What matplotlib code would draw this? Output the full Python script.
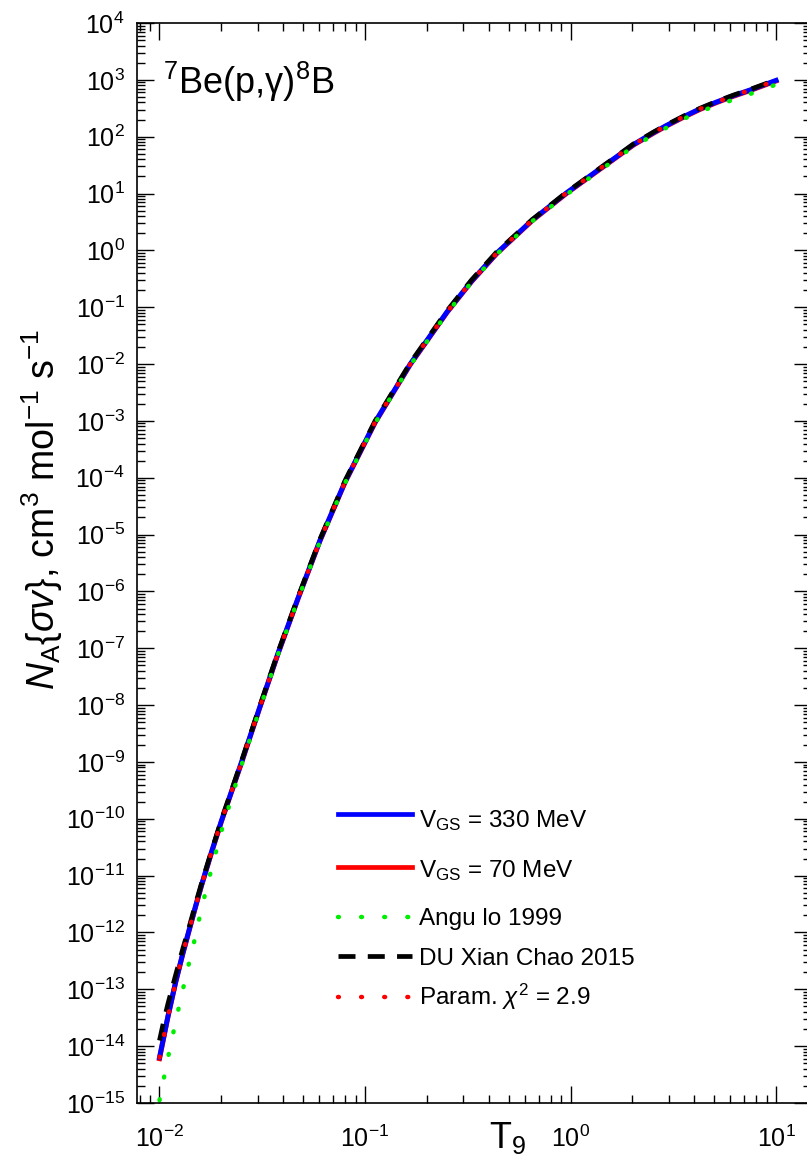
import numpy as np
import matplotlib
matplotlib.use("Agg")
import matplotlib.pyplot as plt
from matplotlib.ticker import LogLocator, FuncFormatter, NullFormatter

plt.rcParams['font.family'] = ['Liberation Sans', 'DejaVu Sans']
plt.rcParams['mathtext.fontset'] = 'custom'
plt.rcParams['mathtext.rm'] = 'Liberation Sans'
plt.rcParams['mathtext.it'] = 'Liberation Sans:italic'
plt.rcParams['mathtext.sf'] = 'Liberation Sans'
plt.rcParams['mathtext.bf'] = 'Liberation Sans:bold'

# ---------------- data ----------------
# V_GS = 330 MeV  (blue) ; V_GS = 70 MeV (red) ; Param. fit (red dots)
T9_main = [0.0100, 0.0110, 0.0120, 0.0130, 0.0140, 0.0150, 0.0160, 0.0180, 0.0200,
           0.0252, 0.0308, 0.0378, 0.0472, 0.0604, 0.0800, 0.112, 0.166, 0.251,
           0.33, 0.437, 0.65, 0.955, 1.42, 1.68, 2.02, 2.53, 2.94, 3.54, 4.27,
           5.14, 6.19, 7.46, 9.02, 10.0]
log_v330 = [-14.20, -13.47, -12.86, -12.36, -11.93, -11.53, -11.17, -10.56, -10.04,
            -8.98, -8.03, -7.08, -6.12, -5.10, -4.07, -3.02, -2.00, -1.08,
            -0.54, -0.05, 0.53, 1.01, 1.46, 1.65, 1.86, 2.07, 2.20, 2.35, 2.49,
            2.61, 2.72, 2.82, 2.93, 2.99]
log_v70 = [-14.22, -13.48, -12.87, -12.37, -11.94, -11.54, -11.18, -10.57, -10.05,
           -8.99, -8.04, -7.09, -6.13, -5.11, -4.08, -3.03, -2.01, -1.09,
           -0.55, -0.06, 0.52, 1.00, 1.45, 1.64, 1.85, 2.06, 2.19, 2.34, 2.48,
           2.60, 2.71, 2.81, 2.92, 2.98]
log_param = [-14.20, -13.47, -12.86, -12.36, -11.93, -11.53, -11.17, -10.56, -10.04,
             -8.98, -8.03, -7.08, -6.12, -5.10, -4.07, -3.02, -2.00, -1.08,
             -0.54, -0.05, 0.53, 1.01, 1.46, 1.65, 1.86, 2.07, 2.20, 2.35, 2.49,
             2.61, 2.72, 2.82, 2.93, 2.99]

# Angulo 1999 (green dots)
T9_angulo = T9_main
log_angulo = [-14.95, -14.20, -13.56, -13.00, -12.50, -12.05, -11.58, -10.85, -10.22,
              -9.03, -8.06, -7.10, -6.14, -5.12, -4.09, -3.04, -2.02, -1.10,
              -0.56, -0.07, 0.51, 0.98, 1.43, 1.62, 1.82, 2.03, 2.16, 2.31, 2.44,
              2.55, 2.65, 2.75, 2.85, 2.92]

# DU XianChao 2015 (black dashes)
T9_du = [0.0100, 0.0105, 0.0110, 0.0120, 0.0130, 0.0140, 0.0150, 0.0160, 0.0180, 0.0200,
         0.0252, 0.0308, 0.0378, 0.0472, 0.0604, 0.0800, 0.112, 0.166, 0.251,
         0.33, 0.437, 0.65, 0.955, 1.42, 1.68, 2.02, 2.53, 2.94, 3.54, 4.27,
         5.14, 6.19, 7.46, 9.02, 10.0]
log_du2015 = [-13.90, -13.55, -13.25, -12.74, -12.28, -11.88, -11.49, -11.14, -10.54, -10.02,
              -8.96, -8.01, -7.06, -6.10, -5.08, -4.05, -3.00, -1.98, -1.06,
              -0.52, -0.03, 0.54, 1.02, 1.47, 1.66, 1.87, 2.08, 2.21, 2.36, 2.50,
              2.62, 2.73, 2.83, 2.94, 3.00]

labels = [r'V$_\mathregular{GS}$ = 330 MeV', r'V$_\mathregular{GS}$ = 70 MeV',
          'Angu lo 1999', 'DU Xian Chao 2015', r'Param. $\chi^2$ = 2.9']

# ---------------- figure ----------------
W, H = 807, 1169
fig = plt.figure(figsize=(W / 100, H / 100), dpi=100)
L, R, T, B = 137.3, 811.0, 23.0, 1103.0
ax = fig.add_axes([L / W, 1 - B / H, (R - L) / W, (B - T) / H])

def P(v):
    return 10.0 ** np.asarray(v)

DOT = dict(lw=3.2, dashes=(0.2, 5.0), dash_capstyle='round')
DASH = dict(lw=3.4, dashes=(3.6, 2.6))
ax.plot(T9_main, P(log_v70), color='#ff0000', lw=3.6, zorder=2)
ax.plot(T9_main, P(log_v330), color='#0000ff', lw=3.6, zorder=3)
ax.plot(T9_du, P(log_du2015), color='black', zorder=4, **DASH)
ax.plot(T9_angulo, P(log_angulo), color='#00ee00', zorder=5, **DOT)
ax.plot(T9_main, P(log_param), color='#ff0000', zorder=6, **DOT)

ax.set_xscale('log')
ax.set_yscale('log')
ax.set_xlim(10 ** (-2 - (159.5 - L) / 205.5), 10 ** (1 + (R - 776.0) / 205.5))
ax.set_ylim(1e-15, 1e4)

fmt = FuncFormatter(lambda v, p: r'$\mathregular{10^{%d}}$' % int(round(np.log10(v))))
ax.xaxis.set_major_locator(LogLocator(base=10, numticks=30))
ax.yaxis.set_major_locator(LogLocator(base=10, numticks=40))
ax.xaxis.set_minor_locator(LogLocator(base=10, subs=np.arange(2, 10), numticks=30))
ax.yaxis.set_minor_locator(LogLocator(base=10, subs=np.arange(2, 10), numticks=40))
ax.xaxis.set_major_formatter(fmt)
ax.yaxis.set_major_formatter(fmt)
ax.xaxis.set_minor_formatter(NullFormatter())
ax.yaxis.set_minor_formatter(NullFormatter())
ax.tick_params(which='both', direction='in', top=True, right=True, width=1.0, labelsize=18)
ax.tick_params(which='major', length=12)
ax.tick_params(which='minor', length=6)
ax.tick_params(axis='x', which='major', pad=16)
ax.tick_params(axis='y', which='major', pad=9)
for s in ax.spines.values():
    s.set_linewidth(1.2)

# reaction label inside the frame
ax.text((163 - L) / (R - L), (1103 - 94) / (B - T),
        r'$^\mathregular{7}$Be(p,$\mathrm{\gamma}$)$^\mathregular{8}$B',
        transform=ax.transAxes, fontsize=26, ha='left', va='baseline')

# axis labels
fig.text(42 / W, 1 - 509 / H,
         r'$N_\mathregular{A}\{\sigma v\}$, cm$^\mathregular{3}$ mol$^\mathregular{-1}$ s$^\mathregular{-1}$',
         rotation=90, fontsize=27, ha='center', va='center')
fig.text(489 / W, 1 - 1148 / H, r'T$_\mathregular{9}$', fontsize=26, ha='left', va='baseline')

# legend (manual)
def axp(px, py):
    return (px - L) / (R - L), (B - py) / (B - T)

rows = [
    dict(y=814, base=827, color='#0000ff', kw=dict(lw=3.4)),
    dict(y=867, base=877, color='#ff0000', kw=dict(lw=3.4)),
    dict(y=917, base=925, color='#00ee00', kw=DOT),
    dict(y=956, base=965, color='black', kw=DASH),
    dict(y=997, base=1005, color='#ff0000', kw=DOT),
]
for lab, r in zip(labels, rows):
    x0, y0 = axp(338, r['y'])
    x1, _ = axp(412, r['y'])
    ax.plot([x0, x1], [y0, y0], color=r['color'], transform=ax.transAxes, clip_on=False, **r['kw'])
    tx, ty = axp(419, r['base'])
    ax.text(tx, ty, lab, transform=ax.transAxes, fontsize=17.5, ha='left', va='baseline')

fig.savefig('out.png', dpi=100)
